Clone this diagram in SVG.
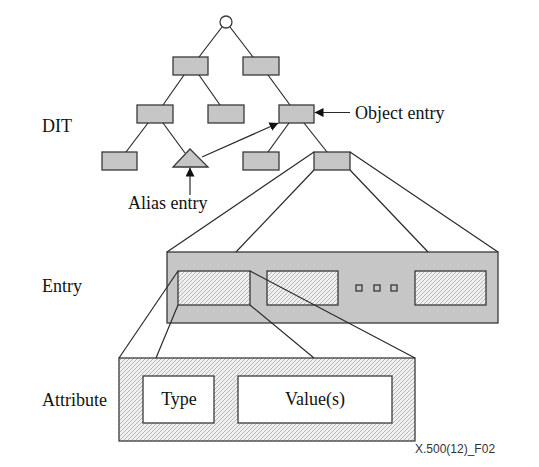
<svg xmlns="http://www.w3.org/2000/svg" width="539" height="467" viewBox="0 0 539 467">
<style>
.box{fill:#c6c6c6;stroke:#3a3a3a;stroke-width:1.3}
.hatch{fill:url(#hatch);stroke:#3a3a3a;stroke-width:1.3}
.white{fill:#fff;stroke:#3a3a3a;stroke-width:1.3}
.ln{stroke:#2a2a2a;stroke-width:1.2;fill:none}
.lbl{font-family:"Liberation Serif","Times New Roman",serif;font-size:18px;fill:#111}
.fig{font-family:"Liberation Sans",Arial,sans-serif;font-size:12px;fill:#333}
</style>
<defs>
<pattern id="hatch" patternUnits="userSpaceOnUse" width="4" height="4">
<rect width="4" height="4" fill="#f0f0f0"/>
<path d="M0,4 L4,0 M-1,1 L1,-1 M3,5 L5,3" stroke="#a8a8a8" stroke-width="0.8"/>
</pattern>
<marker id="arr" viewBox="0 0 10 10" refX="10" refY="5" markerWidth="9" markerHeight="9" markerUnits="userSpaceOnUse" orient="auto">
<path d="M0,0 L10,5 L0,10 z" fill="#111"/>
</marker>
</defs>
<rect width="539" height="467" fill="#fff"/>

<g id="root"><circle cx="226" cy="22" r="6" class="white"/></g>
<g id="n1L"><rect x="173" y="57" width="35" height="18" class="box"/></g>
<g id="n1R"><rect x="243" y="57" width="36" height="18" class="box"/></g>
<g id="n2L"><rect x="137" y="105" width="36" height="18" class="box"/></g>
<g id="n2M"><rect x="208" y="105" width="36" height="18" class="box"/></g>
<g id="n2R"><rect x="279" y="105" width="35" height="18" class="box"/></g>
<g id="n3L"><rect x="102" y="152" width="35" height="18" class="box"/></g>
<g id="alias"><polygon points="190,149 173,167 208,167" class="box"/></g>
<g id="n3M"><rect x="243" y="152" width="36" height="18" class="box"/></g>
<g id="n3R"><rect x="314" y="152" width="36" height="18" class="box"/></g>

<g id="entry">
<rect x="167" y="252" width="331" height="71" class="box"/>
<rect x="178" y="271" width="72" height="34" class="hatch"/>
<rect x="267" y="271" width="71" height="34" class="hatch"/>
<rect x="415" y="271" width="71" height="34" class="hatch"/>
<rect x="356" y="285" width="6" height="6" class="box"/>
<rect x="374" y="285" width="6" height="6" class="box"/>
<rect x="391" y="285" width="6" height="6" class="box"/>
</g>

<g id="attribute">
<rect x="119" y="358" width="296" height="83" class="hatch"/>
<g id="type"><rect x="143" y="376" width="71" height="47" class="white"/>
<text x="179" y="405" text-anchor="middle" class="lbl">Type</text></g>
<g id="values"><rect x="238" y="376" width="154" height="47" class="white"/>
<text x="315" y="405" text-anchor="middle" class="lbl">Value(s)</text></g>
</g>

<g id="connectors" class="ln">
<line x1="222" y1="27" x2="199" y2="57"/>
<line x1="230" y1="27" x2="253" y2="57"/>
<line x1="184" y1="75" x2="163" y2="105"/>
<line x1="199" y1="75" x2="220" y2="105"/>
<line x1="268" y1="75" x2="290" y2="105"/>
<line x1="148" y1="123" x2="126" y2="152"/>
<line x1="163" y1="123" x2="185" y2="153"/>
<line x1="289" y1="123" x2="268" y2="152"/>
<line x1="304" y1="123" x2="327" y2="152"/>
<line x1="202" y1="157" x2="278.5" y2="123" marker-end="url(#arr)"/>
<line x1="350" y1="112.5" x2="314.5" y2="112.5" marker-end="url(#arr)"/>
<line x1="190" y1="195" x2="190" y2="167.5" marker-end="url(#arr)"/>
<line x1="314" y1="152" x2="167" y2="252"/>
<line x1="314" y1="170" x2="236" y2="252"/>
<line x1="350" y1="170" x2="428" y2="252"/>
<line x1="350" y1="152" x2="498" y2="252"/>
<line x1="178" y1="271" x2="119" y2="358"/>
<line x1="178" y1="305" x2="156" y2="358"/>
<line x1="250" y1="305" x2="314" y2="358"/>
<line x1="250" y1="271" x2="415" y2="358"/>
</g>

<g id="labels">
<text x="42" y="132" class="lbl">DIT</text>
<text x="42" y="292" class="lbl">Entry</text>
<text x="42" y="406" class="lbl">Attribute</text>
<text x="355" y="119" class="lbl">Object entry</text>
<text x="128" y="209" class="lbl">Alias entry</text>
<text x="415" y="453" class="fig">X.500(12)_F02</text>
</g>
</svg>
